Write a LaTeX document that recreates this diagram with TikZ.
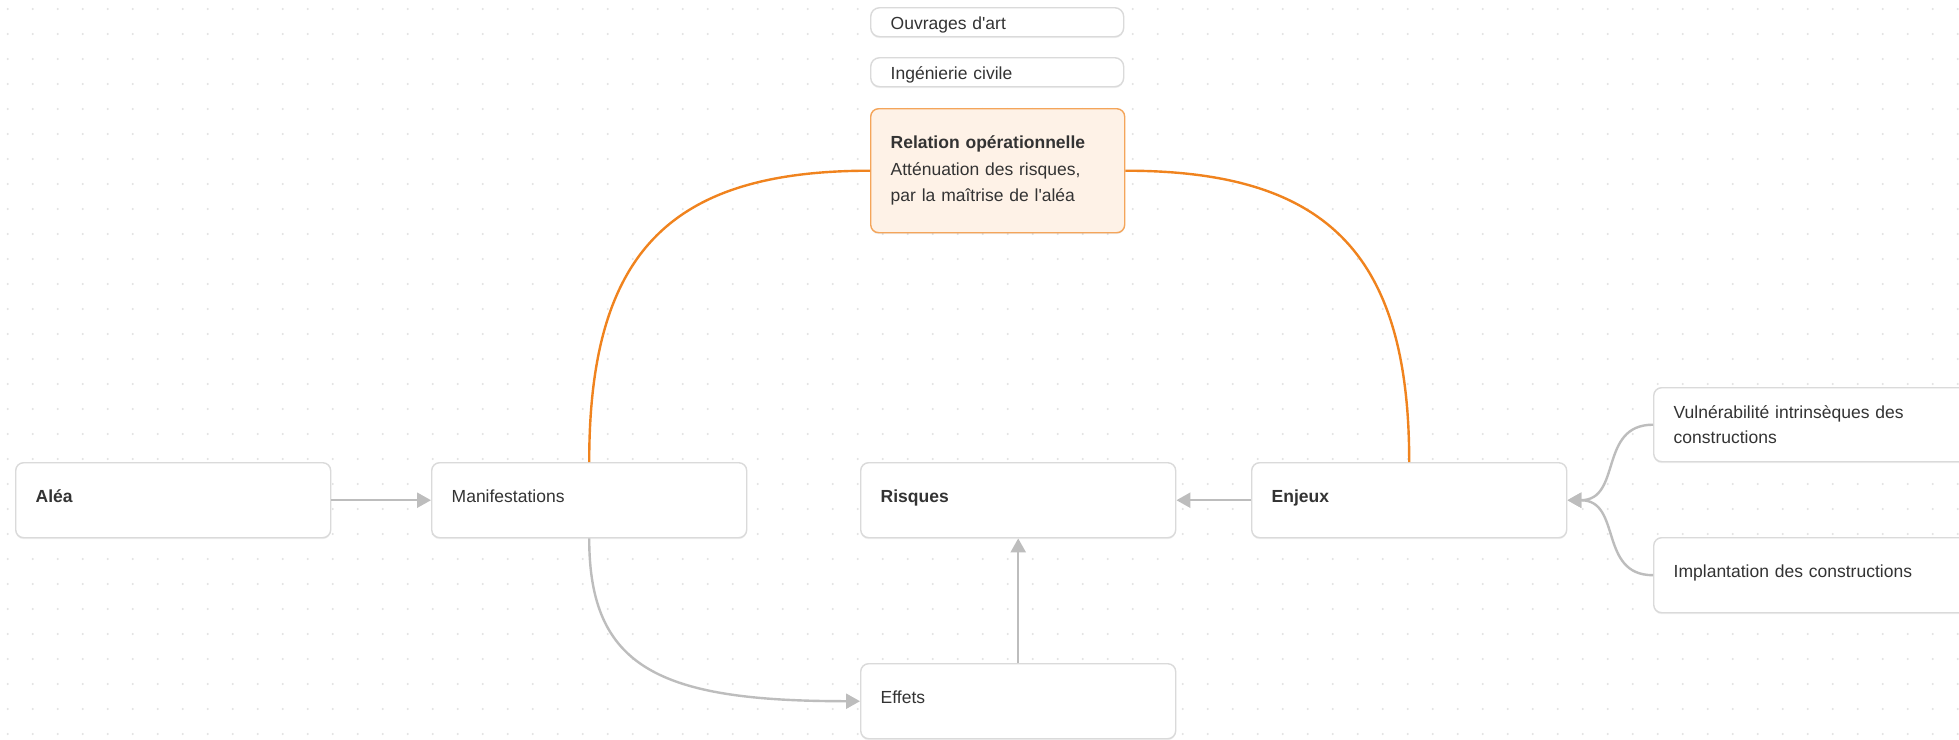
\documentclass[tikz,border=0pt]{standalone}
\usepackage{fontspec}
\setmainfont{Liberation Sans}
\usetikzlibrary{arrows.meta,shadows}
\definecolor{boxborder}{HTML}{DADADA}
\definecolor{conn}{HTML}{BDBDBD}
\definecolor{orangeline}{HTML}{F0831E}
\definecolor{relfill}{HTML}{FEF2E7}
\definecolor{relborder}{HTML}{F4A55A}
\definecolor{txt}{HTML}{333333}
\definecolor{dotc}{HTML}{E2E2E2}
\begin{document}
\begin{tikzpicture}[x=1pt,y=-1pt,
  box/.style={draw=boxborder, line width=1.4pt, fill=white, rounded corners=8pt,
    anchor=north west, inner xsep=20pt, inner ysep=0pt, align=left,
    font=\fontsize{17.5}{25}\selectfont, text=txt,
    drop shadow={shadow xshift=0pt, shadow yshift=-1.5pt, fill=black, opacity=0.06}},
  bigbox/.style={box, text width=275pt, minimum height=75pt},
  onebox/.style={bigbox, text height=11.5pt, text depth=6pt},
  smallbox/.style={box, text width=213pt, minimum height=29pt, rounded corners=9pt,
    text height=14pt, text depth=0pt},
  relbox/.style={box, draw=relborder, fill=relfill, text width=214pt, minimum height=124pt,
    font=\fontsize{17.5}{26.5}\selectfont},
  conline/.style={draw=conn, line width=2.4pt, -{Triangle[length=14pt,width=15pt]}},
  orline/.style={draw=orangeline, line width=2.4pt}
]
\useasboundingbox (0,0) rectangle (1959,739);
\fill[white] (0,0) rectangle (1959,739);
\foreach \i in {0,...,78} {
  \foreach \j in {0,...,29} {
    \fill[dotc] (7.7+25*\i, 9+25*\j) circle (1.1pt);
  }
}
% nodes
\node[onebox] (alea) at (15,462) {\textbf{Aléa}};
\node[onebox] (manif) at (431,462) {Manifestations};
\node[onebox] (risques) at (860,462) {\textbf{Risques}};
\node[onebox] (enjeux) at (1251,462) {\textbf{Enjeux}};
\node[onebox] (effets) at (860,663) {Effets};
\node[bigbox, text width=285pt, minimum height=74pt] (vuln) at (1653,387) {Vulnérabilité intrinsèques des\\constructions};
\node[onebox, text width=285pt] (impl) at (1653,537) {Implantation des constructions};
\node[smallbox] (ouv) at (870,7) {Ouvrages d\textquotesingle art};
\node[smallbox] (ing) at (870,57) {Ingénierie civile};
\node[relbox] (rel) at (870,108) {\textbf{Relation opérationnelle}\\Atténuation des risques,\\par la maîtrise de l\textquotesingle aléa};
% connectors
\draw[conline] (alea.east) -- (manif.west);
\draw[conline] (enjeux.west) -- (risques.east);
\draw[conline] (effets.north) -- (risques.south);
\draw[conline] (manif.south) .. controls +(0,130) and +(-200,0) .. (effets.west);
\draw[conline] (vuln.west) .. controls +(-55,0) and +(55,0) .. (enjeux.east);
\draw[conline] (impl.west) .. controls +(-55,0) and +(55,0) .. (enjeux.east);
\draw[orline] (manif.north) .. controls +(0,-210) and +(-200,0) .. (rel.west);
\draw[orline] (rel.east) .. controls +(200,0) and +(0,-210) .. (enjeux.north);
\end{tikzpicture}
\end{document}
